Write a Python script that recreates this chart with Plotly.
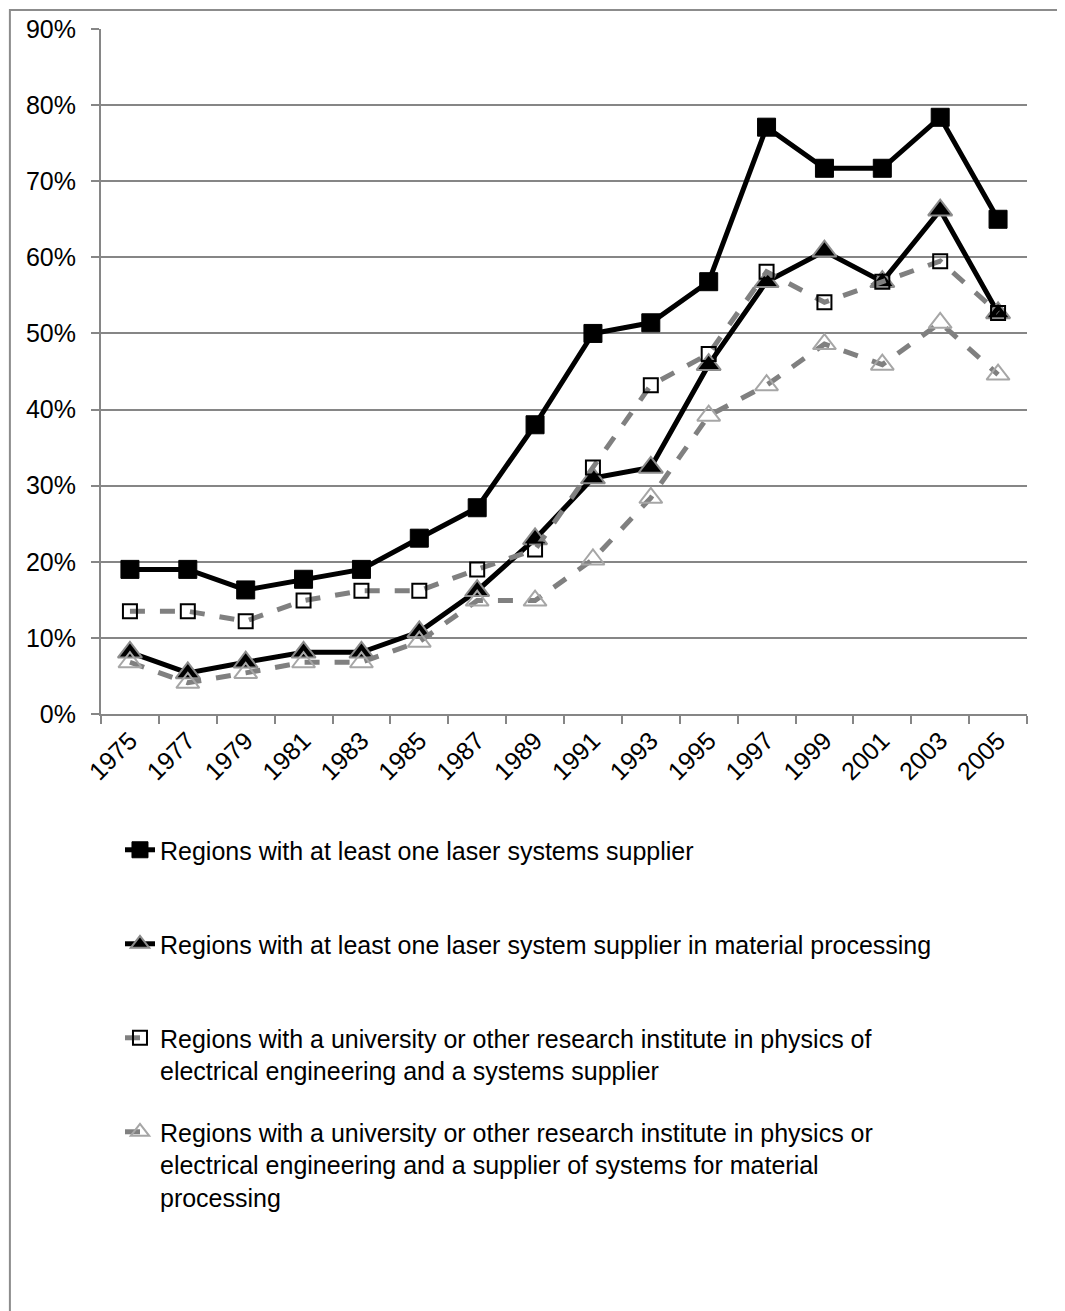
import plotly.graph_objects as go

years = ["1975", "1977", "1979", "1981", "1983", "1985", "1987", "1989",
         "1991", "1993", "1995", "1997", "1999", "2001", "2003", "2005"]

laser_suppliers = [19.0, 19.0, 16.3, 17.7, 19.0, 23.1, 27.1, 38.0,
                   50.0, 51.4, 56.8, 77.1, 71.7, 71.7, 78.4, 65.0]
laser_material = [8.1, 5.4, 6.8, 8.1, 8.1, 10.8, 16.2, 23.0,
                  31.0, 32.4, 45.9, 56.8, 60.8, 56.8, 66.2, 52.7]
univ_systems = [13.5, 13.5, 12.2, 14.9, 16.2, 16.2, 19.0, 21.6,
                32.4, 43.2, 47.3, 58.1, 54.1, 56.8, 59.5, 52.7]
univ_material = [6.8, 4.1, 5.4, 6.8, 6.8, 9.5, 14.9, 14.9,
                 20.3, 28.4, 39.2, 43.2, 48.6, 45.9, 51.4, 44.6]

names = [
    "Regions with at least one laser systems supplier<br> ",
    "Regions with at least one laser system supplier in material processing<br> ",
    "Regions with a university or other research institute in physics of<br>electrical engineering and a systems supplier",
    "Regions with a university or other research institute in physics or<br>electrical engineering and a supplier of systems for material<br>processing",
]

FONT = "Liberation Sans, Arial, sans-serif"
GRID = "#868686"

fig = go.Figure()

fig.add_trace(go.Scatter(
    x=years, y=[v / 100 for v in laser_suppliers], name=names[0], legendgroup="g1",
    mode="lines+markers",
    line=dict(color="black", width=5),
    marker=dict(symbol="square", size=18, color="black", line=dict(color="black", width=1)),
))
fig.add_trace(go.Scatter(
    x=years, y=[v / 100 for v in laser_material], name=names[1], legendgroup="g2",
    mode="lines+markers",
    line=dict(color="black", width=5),
    marker=dict(symbol="triangle-up", size=21, color="black", line=dict(color="#8c8c8c", width=2)),
))
fig.add_trace(go.Scatter(
    x=years, y=[v / 100 for v in univ_systems], name=names[2], legendgroup="g3",
    mode="lines+markers",
    line=dict(color="#808080", width=5, dash="dash"),
    marker=dict(symbol="square-open", size=14, color="black", line=dict(width=2)),
))
fig.add_trace(go.Scatter(
    x=years, y=[v / 100 for v in univ_material], name=names[3], legendgroup="g4",
    mode="lines+markers",
    line=dict(color="#808080", width=5, dash="dash"),
    marker=dict(symbol="triangle-up-open", size=20, color="#a6a6a6", line=dict(width=2)),
))

fig.update_layout(
    width=1057, height=1303,
    margin=dict(l=93, r=38, t=21, b=597, autoexpand=False),
    paper_bgcolor="white", plot_bgcolor="white",
    font=dict(family=FONT, size=25, color="black"),
    showlegend=True,
    legend=dict(
        x=0.0205, y=-0.165, xanchor="left", yanchor="top",
        valign="top", tracegroupgap=26,
        font=dict(family=FONT, size=25, color="black"),
        bgcolor="rgba(0,0,0,0)",
    ),
    xaxis=dict(
        type="category", range=[-0.5, len(years) - 0.5],
        tickangle=-45, tickson="boundaries", automargin=False,
        ticks="outside", ticklen=8, tickcolor=GRID, tickwidth=2,
        showline=True, linecolor=GRID, linewidth=2,
        showgrid=False, zeroline=False,
        tickfont=dict(family=FONT, size=25),
    ),
    yaxis=dict(
        range=[0, 0.9], dtick=0.1, tickformat=".0%", automargin=False,
        ticks="outside", ticklen=8, tickcolor=GRID, tickwidth=2,
        ticklabelstandoff=10,
        showline=True, linecolor=GRID, linewidth=2,
        showgrid=True, gridcolor=GRID, gridwidth=2,
        zeroline=False,
        tickfont=dict(family=FONT, size=25),
    ),
    shapes=[dict(
        type="rect", xref="paper", yref="paper",
        x0=(10 - 101) / 925, x1=(1080 - 101) / 925,
        y0=(714 - 1330) / 685, y1=(714 - 10) / 685,
        line=dict(color="#8c8c8c", width=2), fillcolor="rgba(0,0,0,0)", layer="below",
    )],
)

fig.write_html("out.html")
